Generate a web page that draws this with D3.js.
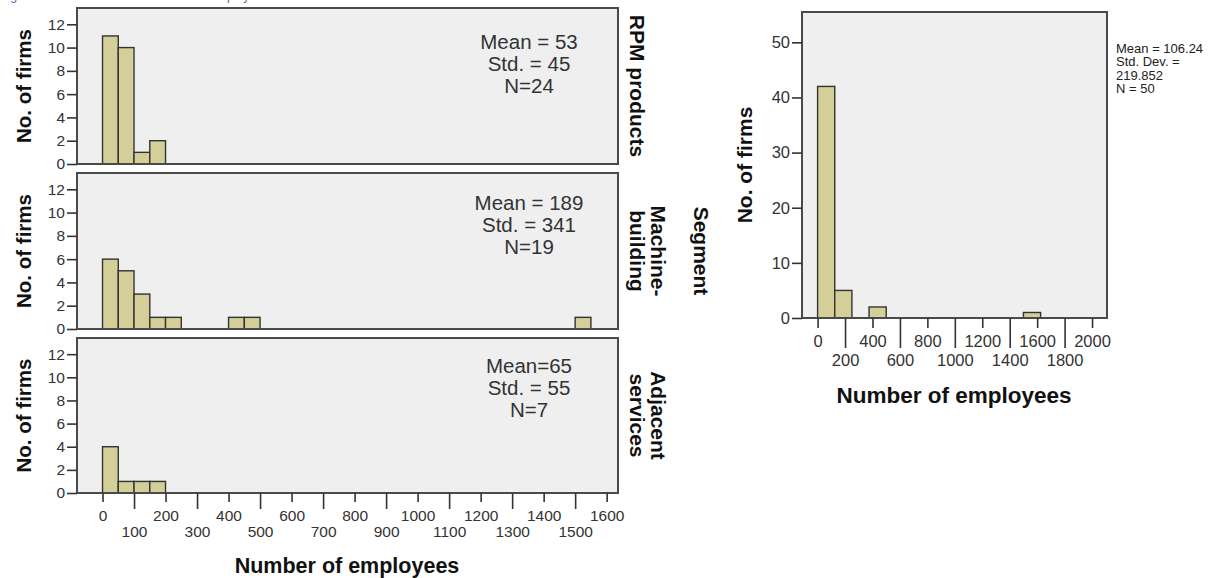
<!DOCTYPE html>
<html>
<head>
<meta charset="utf-8">
<script src="https://cdn.jsdelivr.net/npm/d3@7"></script>
<style>
  body { margin: 0; background: #fff; }
  svg text { font-family: "Liberation Sans", Arial, sans-serif; }
  .tick line { stroke: #333; stroke-width: 1.6; }
  .tick text { fill: #333; }
</style>
</head>
<body>
<div id="chart"></div>
<script>
// segment histograms (bin width 50 employees)
let segmentNames = ["RPM products", "Machine-building", "Adjacent services"];
let segmentLabelLines = [["RPM products"], ["Machine-", "building"], ["Adjacent", "services"]];
let segBinWidth = 50;
let rpmBins = [0, 50, 100, 150];
let rpmCounts = [11, 10, 1, 2];
let machineBins = [0, 50, 100, 150, 200, 400, 450, 1500];
let machineCounts = [6, 5, 3, 1, 1, 1, 1, 1];
let adjacentBins = [0, 50, 100, 150];
let adjacentCounts = [4, 1, 1, 1];
let segmentStats = [["Mean = 53", "Std. = 45", "N=24"],
                    ["Mean = 189", "Std. = 341", "N=19"],
                    ["Mean=65", "Std. = 55", "N=7"]];
let segYTicks = [0, 2, 4, 6, 8, 10, 12];
let segXTicks = d3.range(0, 1700, 100);

// all firms histogram (bin width 125 employees)
let totalBinWidth = 125;
let totalBins = [0, 125, 375, 1500];
let totalCounts = [42, 5, 2, 1];
let totalStats = ["Mean = 106.24", "Std. Dev. =", "219.852", "N = 50"];
let totalYTicks = [0, 10, 20, 30, 40, 50];
let totalXTicks = d3.range(0, 2200, 200);

let segBins = [rpmBins, machineBins, adjacentBins];
let segCounts = [rpmCounts, machineCounts, adjacentCounts];

let barFill = "#d4cf98", barStroke = "#333", panelFill = "#efefef", frameStroke = "#4a4a4a";
let fmt = d3.format("d");

var svg = d3.select("#chart").append("svg")
    .attr("width", 1226).attr("height", 578);

// caption, cut off at the very top like in the source picture
svg.append("text")
    .attr("x", 0).attr("y", 0)
    .attr("fill", "#4a6ea9")
    .style("font-size", "12.3px")
    .text("Figure 4: Distribution of the number of employees");

// ---------- LEFT: paneled histogram ----------
let left = {x0: 77, x1: 618};
let panels = [[8, 164], [173, 329], [338, 493]];
let statsTop = [41, 37, 35];

let xSeg = d3.scaleLinear().domain([-81, 1636]).range([left.x0, left.x1]);

panels.forEach(function(p, i){
    let ySeg = d3.scaleLinear().domain([0, 13.4]).range([p[1], p[0]]);
    let g = svg.append("g").attr("class", "panel");

    g.append("rect")
        .attr("x", left.x0).attr("y", p[0])
        .attr("width", left.x1 - left.x0).attr("height", p[1] - p[0])
        .attr("fill", panelFill);

    let rows = segBins[i].map(function(b, j){ return {start: b, count: segCounts[i][j]}; });
    g.selectAll("rect.bar")
        .data(rows)
        .enter().append("rect")
        .attr("class", "bar")
        .attr("x", d => xSeg(d.start))
        .attr("y", d => ySeg(d.count))
        .attr("width", d => xSeg(d.start + segBinWidth) - xSeg(d.start))
        .attr("height", d => ySeg(0) - ySeg(d.count))
        .attr("fill", barFill)
        .attr("stroke", barStroke)
        .attr("stroke-width", 1.4);

    g.append("rect")
        .attr("x", left.x0).attr("y", p[0])
        .attr("width", left.x1 - left.x0).attr("height", p[1] - p[0])
        .attr("fill", "none")
        .attr("stroke", frameStroke)
        .attr("stroke-width", 2);

    let ax = g.append("g")
        .attr("transform", "translate(" + left.x0 + ",0)")
        .call(d3.axisLeft(ySeg).tickValues(segYTicks).tickFormat(fmt).tickSize(10).tickPadding(2));
    ax.select(".domain").remove();
    ax.selectAll("text").style("font-size", "15.5px").attr("font-family", null);

    g.append("text")
        .attr("transform", "translate(31," + ((p[0] + p[1]) / 2) + ") rotate(-90)")
        .attr("text-anchor", "middle")
        .style("font-size", "20.5px").style("font-weight", "bold")
        .attr("fill", "#111")
        .text("No. of firms");

    g.selectAll("text.stat")
        .data(segmentStats[i])
        .enter().append("text")
        .attr("class", "stat")
        .attr("x", 529)
        .attr("y", (d, k) => p[0] + statsTop[i] + k * 22)
        .attr("text-anchor", "middle")
        .style("font-size", "20.5px")
        .attr("fill", "#333")
        .text(d => d);

    // segment name on the right, reading top to bottom
    let lines = segmentLabelLines[i];
    lines.forEach(function(line, k){
        let bx = lines.length === 1 ? 630 : (k === 0 ? 651 : 630);
        g.append("text")
            .attr("transform", "translate(" + bx + "," + ((p[0] + p[1]) / 2) + ") rotate(90)")
            .attr("text-anchor", "middle")
            .style("font-size", "21px").style("font-weight", "bold")
            .attr("fill", "#111")
            .text(line);
    });
});

svg.append("text")
    .attr("transform", "translate(694," + ((panels[1][0] + panels[1][1]) / 2) + ") rotate(90)")
    .attr("text-anchor", "middle")
    .style("font-size", "21px").style("font-weight", "bold")
    .attr("fill", "#111")
    .text("Segment");

// x axis under the last panel: even hundreds short ticks, odd hundreds long ticks
let segBottom = panels[2][1];
let evenAx = svg.append("g")
    .attr("transform", "translate(0," + segBottom + ")")
    .call(d3.axisBottom(xSeg).tickValues(segXTicks.filter(v => v % 200 === 0)).tickFormat(fmt).tickSize(9));
let oddAx = svg.append("g")
    .attr("transform", "translate(0," + segBottom + ")")
    .call(d3.axisBottom(xSeg).tickValues(segXTicks.filter(v => v % 200 !== 0)).tickFormat(fmt).tickSize(16));
[evenAx, oddAx].forEach(function(a, k){
    a.select(".domain").remove();
    a.selectAll("text")
        .attr("font-family", null)
        .style("font-size", "15.5px")
        .attr("dy", null)
        .attr("y", k === 0 ? 28 : 44);
});

svg.append("text")
    .attr("x", 347).attr("y", 573)
    .attr("text-anchor", "middle")
    .style("font-size", "21.5px").style("font-weight", "bold")
    .attr("fill", "#111")
    .text("Number of employees");

// ---------- RIGHT: all firms ----------
let right = {x0: 802, x1: 1107, y0: 12, y1: 318};
let xTot = d3.scaleLinear().domain([-113.7, 2109]).range([right.x0, right.x1]);
let yTot = d3.scaleLinear().domain([0, 55.5]).range([right.y1, right.y0]);

svg.append("rect")
    .attr("x", right.x0).attr("y", right.y0)
    .attr("width", right.x1 - right.x0).attr("height", right.y1 - right.y0)
    .attr("fill", panelFill);

let totRows = totalBins.map(function(b, j){ return {start: b, count: totalCounts[j]}; });
svg.selectAll("rect.totbar")
    .data(totRows)
    .enter().append("rect")
    .attr("class", "totbar")
    .attr("x", d => xTot(d.start))
    .attr("y", d => yTot(d.count))
    .attr("width", d => xTot(d.start + totalBinWidth) - xTot(d.start))
    .attr("height", d => yTot(0) - yTot(d.count))
    .attr("fill", barFill)
    .attr("stroke", barStroke)
    .attr("stroke-width", 1.4);

svg.append("rect")
    .attr("x", right.x0).attr("y", right.y0)
    .attr("width", right.x1 - right.x0).attr("height", right.y1 - right.y0)
    .attr("fill", "none")
    .attr("stroke", frameStroke)
    .attr("stroke-width", 2);

let totY = svg.append("g")
    .attr("transform", "translate(" + right.x0 + ",0)")
    .call(d3.axisLeft(yTot).tickValues(totalYTicks).tickFormat(fmt).tickSize(10).tickPadding(2));
totY.select(".domain").remove();
totY.selectAll("text").attr("font-family", null).style("font-size", "16.5px");

let totEven = svg.append("g")
    .attr("transform", "translate(0," + right.y1 + ")")
    .call(d3.axisBottom(xTot).tickValues(totalXTicks.filter(v => v % 400 === 0)).tickFormat(fmt).tickSize(10));
let totOdd = svg.append("g")
    .attr("transform", "translate(0," + right.y1 + ")")
    .call(d3.axisBottom(xTot).tickValues(totalXTicks.filter(v => v % 400 !== 0)).tickFormat(fmt).tickSize(30));
[totEven, totOdd].forEach(function(a, k){
    a.select(".domain").remove();
    a.selectAll("text")
        .attr("font-family", null)
        .style("font-size", "16.5px")
        .attr("dy", null)
        .attr("y", k === 0 ? 29 : 48);
});

svg.append("text")
    .attr("transform", "translate(752," + ((right.y0 + right.y1) / 2) + ") rotate(-90)")
    .attr("text-anchor", "middle")
    .style("font-size", "21px").style("font-weight", "bold")
    .attr("fill", "#111")
    .text("No. of firms");

svg.append("text")
    .attr("x", 954).attr("y", 403)
    .attr("text-anchor", "middle")
    .style("font-size", "22.5px").style("font-weight", "bold")
    .attr("fill", "#111")
    .text("Number of employees");

svg.selectAll("text.totstat")
    .data(totalStats)
    .enter().append("text")
    .attr("class", "totstat")
    .attr("x", 1116)
    .attr("y", (d, k) => 53 + k * 13.4)
    .style("font-size", "13px")
    .attr("fill", "#222")
    .text(d => d);
</script>
</body>
</html>
